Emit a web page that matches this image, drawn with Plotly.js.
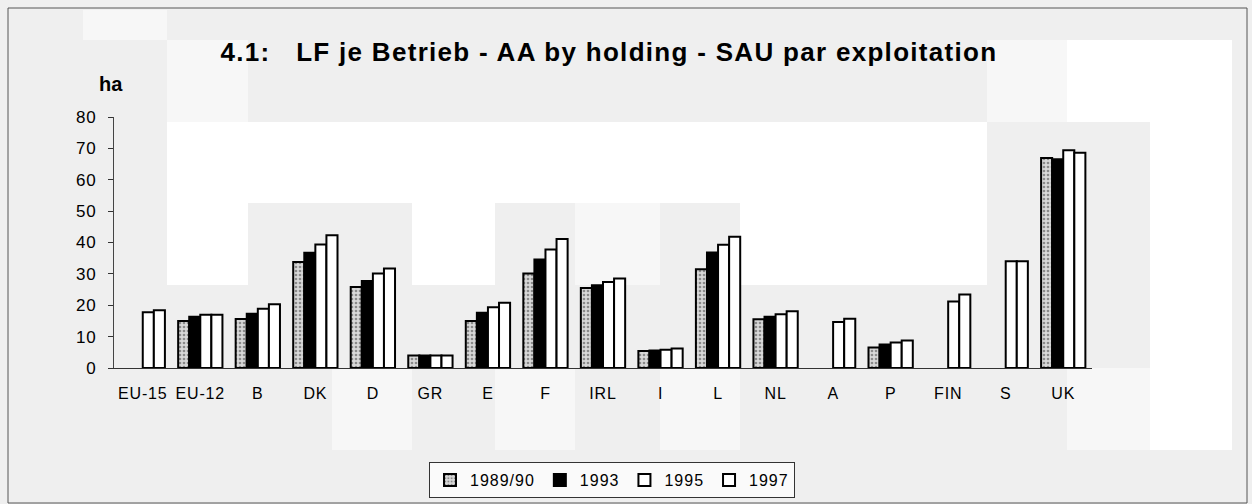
<!DOCTYPE html>
<html>
<head>
<meta charset="utf-8">
<script src="https://cdn.plot.ly/plotly-3.0.1.min.js"></script>
<style>
html,body{margin:0;padding:0;background:#efefef;}
.gtitle{letter-spacing:1.3px;}
.legendtext{letter-spacing:1px;}
.xtick text,.ytick text{letter-spacing:0.8px;}
</style>
</head>
<body>
<div id="chart" style="width:1252px;height:504px;"></div>
<script>
const categories = ["EU-15","EU-12","B","DK","D","GR","E","F","IRL","I","L","NL","A","P","FIN","S","UK"];
const seriesNames = ["1989/90","1993","1995","1997"];
const v1989 = [null,15.0,15.6,33.8,25.8,4.0,15.0,30.1,25.5,5.4,31.5,15.5,null,6.5,null,null,66.9];
const v1993 = [null,16.3,17.3,36.7,27.7,4.0,17.6,34.6,26.4,5.6,36.8,16.3,null,7.5,null,null,66.5];
const v1995 = [17.8,17.0,18.9,39.4,30.1,4.0,19.4,37.8,27.4,5.8,39.3,17.1,14.7,8.1,21.2,34.0,69.4];
const v1997 = [18.4,17.0,20.3,42.3,31.7,4.0,20.8,41.1,28.5,6.2,41.8,18.1,15.7,8.8,23.4,34.0,68.6];
const yTicks = [0,10,20,30,40,50,60,70,80];

const font = "Arial, 'Liberation Sans', sans-serif";
const line = {color:'#000', width:2};
const traces = [
  {type:'bar', name:seriesNames[0], x:categories, y:v1989,
   marker:{color:'#cfcfcf', line:line, pattern:{shape:'.', fgcolor:'#8a8a8a', bgcolor:'#d8d8d8', size:4, solidity:0.35}}},
  {type:'bar', name:seriesNames[1], x:categories, y:v1993, marker:{color:'#000', line:line}},
  {type:'bar', name:seriesNames[2], x:categories, y:v1995, marker:{color:'#fff', line:line}},
  {type:'bar', name:seriesNames[3], x:categories, y:v1997, marker:{color:'#fff', line:line}}
];

// plot area pixel frame: x 114..1092, y 117..368
const L=114, R=1092, T=117, B=368;
function px(x){return (x-L)/(R-L);} function py(y){return (B-y)/(B-T);}
function rect(x0,y0,x1,y1,fill){return {type:'rect',xref:'paper',yref:'paper',x0:px(x0),x1:px(x1),y0:py(y1),y1:py(y0),fillcolor:fill,line:{width:0},layer:'below'};}

const layout = {
  width:1252, height:504,
  margin:{l:L, r:1252-R, t:T, b:504-B, pad:0},
  paper_bgcolor:'#efefef', plot_bgcolor:'rgba(0,0,0,0)',
  barmode:'group', bargap:0.23, bargroupgap:0,
  title:{text:'4.1:\u00a0\u00a0\u00a0LF je Betrieb - AA by holding - SAU par exploitation',
         font:{family:font, size:26, color:'#000', weight:'bold'},
         x:609/1252, xref:'container', xanchor:'center', y:1-52/504, yref:'container', yanchor:'middle'},
  xaxis:{type:'category', showline:true, linecolor:'#333', linewidth:1, ticks:'',
         tickfont:{family:font, size:16, color:'#000'}, ticklabelstandoff:11,
         showgrid:false, zeroline:false, fixedrange:true},
  yaxis:{range:[0,80], tickvals:yTicks, ticks:'outside', ticklen:5, tickcolor:'#333',
         showline:true, linecolor:'#444', linewidth:1, showgrid:false, zeroline:false,
         tickfont:{family:font, size:17, color:'#000'}, ticklabelstandoff:8},
  showlegend:true,
  legend:{orientation:'h', x:612/1252, xref:'container', xanchor:'center', y:1-480/504, yref:'container', yanchor:'middle',
          bgcolor:'#fafafa', bordercolor:'#333', borderwidth:1,
          font:{family:font, size:16, color:'#000'}, itemwidth:30, traceorder:'normal', itemclick:false},
  annotations:[
    {text:'<b>ha</b>', xref:'paper', yref:'paper', x:px(97), y:py(71), showarrow:false,
     font:{family:font, size:20, color:'#000'}}
  ],
  shapes:[
    rect(83,10,167,40,'#f7f7f7'),
    rect(167,40,248,122,'#f7f7f7'),
    rect(167,122,248,285,'#ffffff'),
    rect(248,122,987,203,'#ffffff'),
    rect(412,203,495,285,'#ffffff'),
    rect(575,203,660,285,'#f7f7f7'),
    rect(740,203,987,285,'#ffffff'),
    rect(987,40,1067,122,'#f7f7f7'),
    rect(1067,40,1232,122,'#ffffff'),
    rect(1150,122,1232,450,'#ffffff'),
    rect(1067,368,1150,450,'#f7f7f7'),
    rect(332,368,412,450,'#f7f7f7'),
    rect(495,368,575,450,'#f7f7f7'),
    rect(660,368,740,450,'#f7f7f7'),
    {type:'rect',xref:'paper',yref:'paper',x0:px(8),x1:px(1247),y0:py(503),y1:py(8),line:{color:'#555',width:1},fillcolor:'rgba(0,0,0,0)',layer:'below'}
  ]
};
Plotly.newPlot('chart', traces, layout, {displayModeBar:false, staticPlot:true});
</script>
</body>
</html>
